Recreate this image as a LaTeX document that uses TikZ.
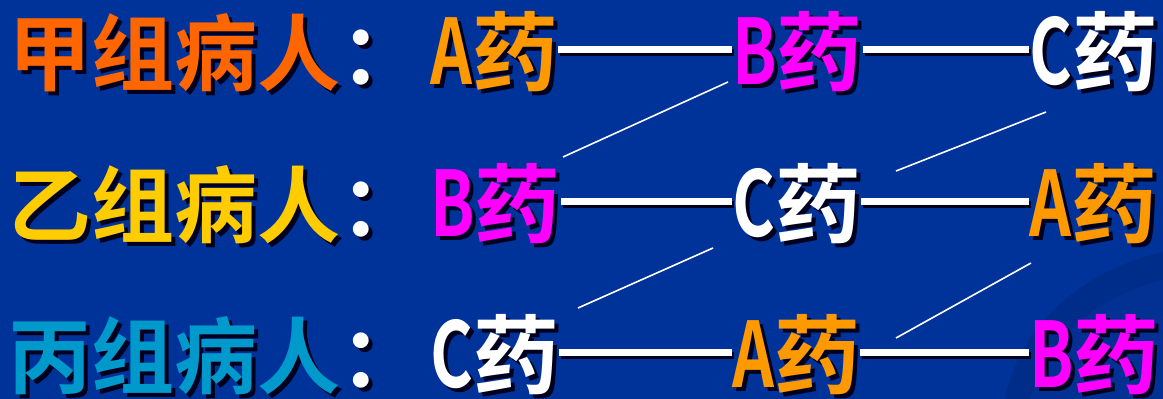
\documentclass[tikz,border=0pt]{standalone}
\usepackage{graphicx}
\usepackage{fontspec}
\newfontfamily\cjkb{Noto Sans CJK SC Bold}
\definecolor{bg}{RGB}{0,51,153}
\definecolor{bgdark}{RGB}{0,44,138}
\definecolor{bgmid}{RGB}{2,48,147}
\definecolor{shadowc}{RGB}{0,0,30}
\definecolor{cjia}{RGB}{255,102,0}
\definecolor{cyi}{RGB}{255,204,0}
\definecolor{cbing}{RGB}{0,153,204}
\definecolor{cA}{RGB}{255,153,0}
\definecolor{cB}{RGB}{255,0,255}
\definecolor{cC}{RGB}{255,255,255}
\newcommand\shtxt[2]{\makebox[0pt][l]{\hspace*{4pt}\raisebox{-4pt}{\color{shadowc}#2}}{\color{#1}#2}}
\newcommand\drug[2]{\shtxt{#1}{\scalebox{0.76}[1.05]{#2}药}}
\tikzset{
  lbl/.style={inner sep=0pt, anchor=base west, font=\cjkb\fontsize{83pt}{83pt}\selectfont, text height=75pt, text depth=7pt},
  drg/.style={lbl, font=\cjkb\fontsize{86pt}{86pt}\selectfont, text height=77pt, text depth=7pt},
  hl/.style={white, line width=7pt},
  hlsh/.style={shadowc, line width=7pt},
  thin/.style={white, line width=1.6pt}
}
\begin{document}
\begin{tikzpicture}[x=1pt,y=-1pt]
\useasboundingbox (0,0) rectangle (1163,399);
\fill[bg] (0,0) rectangle (1163,399);
% background swoosh
\fill[bgdark] (1005,399) .. controls (1020,320) and (1090,268) .. (1163,252) -- (1163,399) -- cycle;
\fill[bgmid] (1030,399) .. controls (1050,335) and (1100,295) .. (1163,280) -- (1163,399) -- cycle;
% row 1
\node[lbl] (L1) at (8,84) {\shtxt{cjia}{甲组病人}\shtxt{white}{：}};
\node[drg] (a1) at (430,84) {\drug{cA}{A}};
\node[drg] (b1) at (732,84) {\drug{cB}{B}};
\node[drg] (c1) at (1029,84) {\drug{cC}{C}};
% row 2
\node[lbl] (L2) at (8,236) {\shtxt{cyi}{乙组病人}\shtxt{white}{：}};
\node[drg] (b2) at (430,236) {\drug{cB}{B}};
\node[drg] (c2) at (732,236) {\drug{cC}{C}};
\node[drg] (a2) at (1029,236) {\drug{cA}{A}};
% row 3
\node[lbl] (L3) at (8,387) {\shtxt{cbing}{丙组病人}\shtxt{white}{：}};
\node[drg] (c3) at (430,387) {\drug{cC}{C}};
\node[drg] (a3) at (732,387) {\drug{cA}{A}};
\node[drg] (b3) at (1029,387) {\drug{cB}{B}};
% horizontal connectors
\foreach \p/\q in {a1/b1,b1/c1,b2/c2,c2/a2,c3/a3,a3/b3}{
  \draw[hlsh] ([shift={(2,3)}]\p.east) -- ([shift={(2,3)}]\q.west);
  \draw[hl] (\p.east) -- (\q.west);
}
% diagonal connectors
\coordinate (d1a) at (728,82);  \coordinate (d1b) at (563,157);
\coordinate (d2a) at (1046,112); \coordinate (d2b) at (896,171);
\coordinate (d3a) at (713,248); \coordinate (d3b) at (578,308);
\coordinate (d4a) at (1031,263); \coordinate (d4b) at (896,338);
\draw[thin] (d1a) -- (d1b);
\draw[thin] (d2a) -- (d2b);
\draw[thin] (d3a) -- (d3b);
\draw[thin] (d4a) -- (d4b);
\end{tikzpicture}
\end{document}
